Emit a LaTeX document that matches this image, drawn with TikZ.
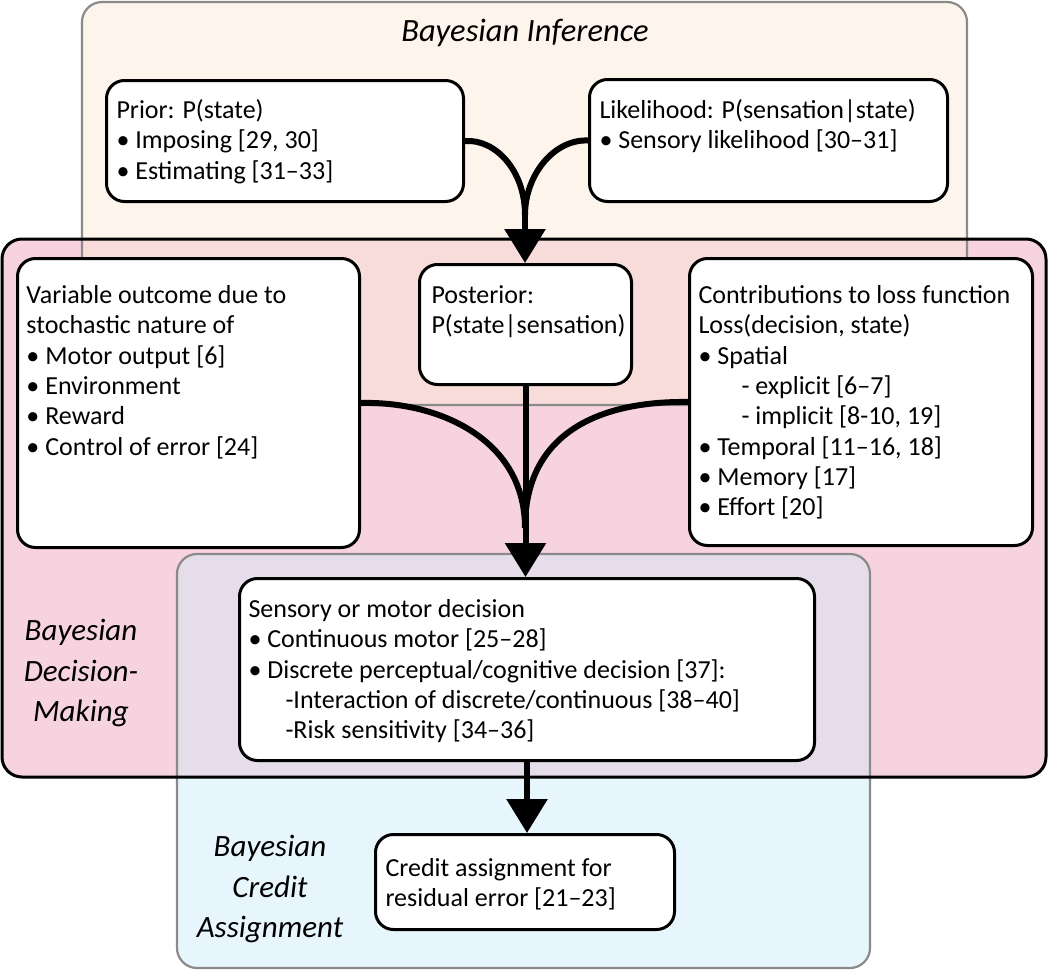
\documentclass[tikz,border=0pt]{standalone}
\usepackage{fontspec}
\setmainfont{Carlito}
\usetikzlibrary{arrows.meta}
\definecolor{inferfill}{HTML}{FDF5EB}
\definecolor{decfill}{HTML}{F7D3DF}
\definecolor{infdecfill}{HTML}{F8DCD9}
\definecolor{credfill}{HTML}{E7F6FC}
\definecolor{deccredfill}{HTML}{E5DEEA}
\definecolor{framegray}{HTML}{8A8A8A}
\newcommand\cardfont{\fontsize{26pt}{30.3pt}\selectfont}
\newcommand\labfont{\fontsize{31pt}{40.5pt}\selectfont\itshape}
% #1 width, #2 height, #3 first baseline offset, #4 left indent, #5 text
\newcommand\cardtxt[5]{\parbox[c][#2][t]{#1}{\cardfont\raggedright\leftskip=#4\relax\rule{0pt}{#3}#5}}
\begin{document}
\begin{tikzpicture}[x=1pt,y=-1pt,
  card/.style={draw=black, line width=3pt, fill=white, rounded corners=18pt, inner sep=0pt, anchor=north west},
  flow/.style={line width=6pt},
  tip/.style={-{Triangle[length=34pt,width=40pt]}},
  lab/.style={font=\labfont, align=center, inner sep=0pt}]
\useasboundingbox (0,0) rectangle (1050,972);
% region fills
\fill[inferfill, rounded corners=20pt] (82,2) rectangle (967,405);
\fill[decfill, rounded corners=20pt] (2,239) rectangle (1046,777);
\begin{scope}
  \clip[rounded corners=20pt] (82,2) rectangle (967,405);
  \fill[infdecfill, rounded corners=20pt] (2,239) rectangle (1046,777);
\end{scope}
\fill[credfill, rounded corners=20pt] (177,554) rectangle (870,968);
\begin{scope}
  \clip[rounded corners=20pt] (177,554) rectangle (870,968);
  \fill[deccredfill, rounded corners=20pt] (2,239) rectangle (1046,777);
\end{scope}
% region frames
\draw[framegray, line width=2.2pt, rounded corners=20pt] (82,2) rectangle (967,405);
\draw[framegray, line width=2.2pt, rounded corners=20pt] (177,554) rectangle (870,968);
\draw[black, line width=3pt, rounded corners=20pt] (2,239) rectangle (1046,777);
% region labels
\node[lab, font=\fontsize{32.5pt}{40pt}\selectfont\itshape] (tinf) at (525,33) {Bayesian Inference};
\node[lab] (tdec) at (81,673) {Bayesian\\Decision-\\Making};
\node[lab] (tcred) at (270,889) {Bayesian\\Credit\\Assignment};
% cards
\node[card] (prior) at (105,79) {\cardtxt{357pt}{121pt}{38pt}{10pt}{Prior: P(state)\\\textbullet\ Imposing [29, 30]\\\textbullet\ Estimating [31--33]}};
\node[card] (lik) at (588,78) {\cardtxt{358pt}{122pt}{39pt}{10pt}{Likelihood: P(sensation|state)\\\textbullet\ Sensory likelihood [30--31]}};
\node[card] (var) at (16,257) {\cardtxt{342pt}{289pt}{45pt}{9pt}{Variable outcome due to\\stochastic nature of\\\textbullet\ Motor output [6]\\\textbullet\ Environment\\\textbullet\ Reward\\\textbullet\ Control of error [24]}};
\node[card] (post) at (418,263) {\cardtxt{212pt}{120pt}{39pt}{12pt}{Posterior:\\P(state|sensation)}};
\node[card] (contrib) at (688,257) {\cardtxt{343pt}{287pt}{45pt}{9pt}{Contributions to loss function\\Loss(decision, state)\\\textbullet\ Spatial\\\hspace*{43pt}- explicit [6--7]\\\hspace*{43pt}- implicit [8-10, 19]\\\textbullet\ Temporal [11--16, 18]\\\textbullet\ Memory [17]\\\textbullet\ Effort [20]}};
\node[card] (sens) at (238,577) {\cardtxt{575pt}{182pt}{39pt}{9pt}{Sensory or motor decision\\\textbullet\ Continuous motor [25--28]\\\textbullet\ Discrete perceptual/cognitive decision [37]:\\\hspace*{37pt}-Interaction of discrete/continuous [38--40]\\\hspace*{37pt}-Risk sensitivity [34--36]}};
\node[card] (credit) at (374,833) {\cardtxt{299pt}{95pt}{42pt}{10pt}{Credit assignment for\\residual error [21--23]}};
% connectors
\coordinate (m1) at (525,215);
\coordinate (m2) at (525,528);
\draw[flow] (prior.east) .. controls (496,139) and (525,171) .. (m1);
\draw[flow] (lik.west) .. controls (554,139) and (525,175) .. (m1);
\draw[flow, tip] (m1) -- (m1 |- post.north);
\draw[flow] (var.east) .. controls (440,401) and (525,440) .. (m2);
\draw[flow] (contrib.west) .. controls (620,401) and (525,420) .. (m2);
\draw[flow, tip] (post.south) -- (post.south |- sens.north);
\draw[flow, tip] (sens.south) -- (sens.south |- credit.north);
\end{tikzpicture}
\end{document}
